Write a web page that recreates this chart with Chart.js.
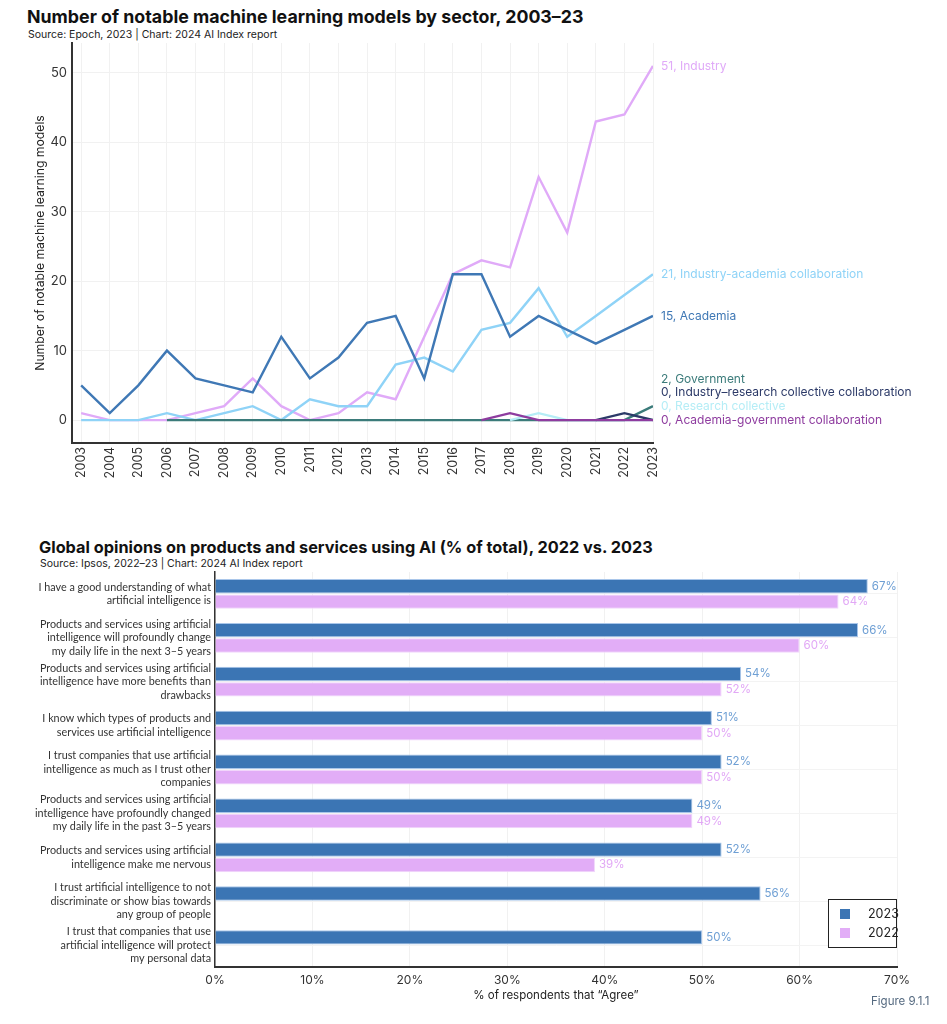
<!DOCTYPE html>
<html>
<head>
<meta charset="utf-8">
<script src="https://cdn.jsdelivr.net/npm/chart.js@4.4.1/dist/chart.umd.min.js"></script>
<style>
  html, body { margin:0; padding:0; background:#fff; }
  body { width:947px; height:1024px; position:relative; overflow:hidden; font-family:"Inter", "Liberation Sans", sans-serif; }
  .title { position:absolute; font-weight:700; color:#111; white-space:nowrap; }
  .sub { position:absolute; color:#222; white-space:nowrap; }
  canvas { position:absolute; left:0; }
  #legend { position:absolute; left:828px; top:899px; width:67px; height:47px; border:1.5px solid #222; background:#fff; font-size:12.5px; color:#222; }
  #legend .row { position:absolute; left:11px; width:56px; height:16px; line-height:16px; white-space:nowrap; }
  #legend .sw { display:inline-block; width:10px; height:10px; vertical-align:middle; margin-right:18px; margin-top:-2px; }
  #fig { position:absolute; left:871px; top:994px; font-size:11.5px; color:#556a80; }
</style>
</head>
<body>
<div class="title" style="left:27px; top:6px; font-size:17.8px;">Number of notable machine learning models by sector, 2003–23</div>
<div class="sub" style="left:28px; top:28px; font-size:10.5px;">Source: Epoch, 2023 | Chart: 2024 AI Index report</div>
<canvas id="c1" width="947" height="500" style="top:0;width:947px;height:500px;"></canvas>

<div class="title" style="left:39px; top:537px; font-size:16.3px;">Global opinions on products and services using AI (% of total), 2022 vs. 2023</div>
<div class="sub" style="left:40px; top:557px; font-size:10.5px;">Source: Ipsos, 2022–23 | Chart: 2024 AI Index report</div>
<canvas id="c2" width="947" height="524" style="top:500px;width:947px;height:524px;"></canvas>

<div id="legend">
  <div class="row" style="top:6px;"><span class="sw" style="background:#3b75b4"></span>2023</div>
  <div class="row" style="top:25px;"><span class="sw" style="background:#e2adf7"></span>2022</div>
</div>
<div id="fig">Figure 9.1.1</div>

<script>
// ---------- Chart 1 data ----------
const years = [2003,2004,2005,2006,2007,2008,2009,2010,2011,2012,2013,2014,2015,2016,2017,2018,2019,2020,2021,2022,2023];
const yTicks1 = [0,10,20,30,40,50];
const academiaGov      = [null,null,null,null,null,null,null,null,null,null,null,null,null,null,0,1,0,0,0,0,0];
const researchColl     = [null,null,null,null,null,null,null,null,null,null,null,null,null,null,null,0,1,0,0,0,0];
const industryResearch = [null,null,null,null,null,null,null,null,null,null,null,null,null,null,null,null,null,null,0,1,0];
const government       = [null,null,null,0,0,0,0,0,0,0,0,0,0,0,0,0,0,0,0,0,2];
const academia         = [5,1,5,10,6,5,4,12,6,9,14,15,6,21,21,12,15,13,11,13,15];
const industryAcademia = [0,0,0,1,0,1,2,0,3,2,2,8,9,7,13,14,19,12,15,18,21];
const industry         = [1,0,0,0,1,2,6,2,0,1,4,3,12,21,23,22,35,27,43,44,51];

const series1 = [
  {name:'Academia-government collaboration', values:academiaGov, color:'#8e3c9f'},
  {name:'Research collective', values:researchColl, color:'#b5edf6'},
  {name:'Industry–research collective collaboration', values:industryResearch, color:'#2c3a68'},
  {name:'Government', values:government, color:'#3b7b7a'},
  {name:'Academia', values:academia, color:'#3f78b5'},
  {name:'Industry-academia collaboration', values:industryAcademia, color:'#8fd3f7'},
  {name:'Industry', values:industry, color:'#e0aaf8'}
];

// ---------- Chart 2 data ----------
const statements = [
  ['I have a good understanding of what','artificial intelligence is'],
  ['Products and services using artificial','intelligence will profoundly change','my daily life in the next 3–5 years'],
  ['Products and services using artificial','intelligence have more benefits than','drawbacks'],
  ['I know which types of products and','services use artificial intelligence'],
  ['I trust companies that use artificial','intelligence as much as I trust other','companies'],
  ['Products and services using artificial','intelligence have profoundly changed','my daily life in the past 3–5 years'],
  ['Products and services using artificial','intelligence make me nervous'],
  ['I trust artificial intelligence to not','discriminate or show bias towards','any group of people'],
  ['I trust that companies that use','artificial intelligence will protect','my personal data']
];
const agree2023 = [67,66,54,51,52,49,52,56,50];
const agree2022 = [64,60,52,50,50,49,39,null,null];
const xTicks2 = [0,10,20,30,40,50,60,70];

const FONT = '"Inter", "Liberation Sans", sans-serif';
const FONT_NARROW = '"Lato", "Liberation Sans", sans-serif';

// ---------- Chart 1 ----------
const endLabels = {
  id:'endLabels',
  afterDatasetsDraw(chart){
    const ctx = chart.ctx, xs = chart.scales.x, ys = chart.scales.y;
    const items = chart.data.datasets.map(ds => {
      const last = ds.data[ds.data.length-1];
      return {text: last.y + ', ' + ds.label, color: ds.borderColor, x: xs.getPixelForValue(last.x) + 8, y: ys.getPixelForValue(last.y)};
    });
    items.sort((a,b)=>b.y-a.y);
    for (let i=1;i<items.length;i++){
      if (items[i].y > items[i-1].y - 13.6) items[i].y = items[i-1].y - 13.6;
    }
    ctx.save();
    ctx.font = '12px ' + FONT;
    ctx.textBaseline = 'middle';
    ctx.textAlign = 'left';
    items.forEach(it => { ctx.fillStyle = it.color; ctx.fillText(it.text, it.x, it.y); });
    ctx.restore();
  }
};

new Chart(document.getElementById('c1'), {
  type:'line',
  data:{
    datasets: series1.map(s => ({
      label:s.name,
      data:s.values.map((v,i)=>({x:years[i], y:v})),
      borderColor:s.color,
      backgroundColor:s.color,
      borderWidth:2.4,
      pointRadius:0,
      tension:0,
      spanGaps:false
    }))
  },
  options:{
    responsive:false,
    animation:false,
    devicePixelRatio:1,
    layout:{padding:{top:43, right:294, left:33, bottom:0}},
    plugins:{legend:{display:false}, tooltip:{enabled:false}},
    scales:{
      x:{
        type:'linear', min:2002.68, max:2023,
        afterBuildTicks: s => { s.ticks = years.map(v=>({value:v})); },
        afterFit: s => { s.height = 57; },
        ticks:{autoSkip:false, minRotation:90, maxRotation:90, padding:4, color:'#333', font:{family:FONT, size:12.5}, callback:v=>String(v)},
        grid:{color:'#f1f1f1', lineWidth:1, drawTicks:false},
        border:{display:true, color:'#333', width:2}
      },
      y:{
        type:'linear', min:-3.3, max:54.3,
        afterBuildTicks: s => { s.ticks = yTicks1.map(v=>({value:v})); },
        afterFit: s => { s.width = 39; },
        ticks:{padding:5, color:'#333', font:{family:FONT, size:13}},
        grid:{color:'#f1f1f1', lineWidth:1, drawTicks:false},
        border:{display:true, color:'#333', width:2},
        title:{display:true, text:'Number of notable machine learning models', color:'#222', font:{family:FONT, size:12.2}, padding:{top:0,bottom:0}}
      }
    }
  },
  plugins:[endLabels]
});

// ---------- Chart 2 ----------
const barLabels = {
  id:'barLabels',
  afterDatasetsDraw(chart){
    const ctx = chart.ctx;
    ctx.save();
    ctx.font = '11.5px ' + FONT;
    ctx.textBaseline = 'middle';
    ctx.textAlign = 'left';
    chart.data.datasets.forEach((ds, di) => {
      const meta = chart.getDatasetMeta(di);
      ctx.fillStyle = ds.labelColor;
      meta.data.forEach((el, i) => {
        const v = ds.data[i];
        if (v === null || v === undefined) return;
        ctx.fillText(v + '%', el.x + 4, el.y);
      });
    });
    ctx.restore();
  }
};

new Chart(document.getElementById('c2'), {
  type:'bar',
  data:{
    labels: statements,
    datasets:[
      {label:'2023', data:agree2023, backgroundColor:'#3b75b4', borderColor:'#a9c6ea', borderWidth:1, labelColor:'#6e9fd4', barPercentage:0.94, categoryPercentage:0.7},
      {label:'2022', data:agree2022, backgroundColor:'#e2adf7', borderColor:'#f1d6fb', borderWidth:1, labelColor:'#e2a8f6', barPercentage:0.94, categoryPercentage:0.7}
    ]
  },
  options:{
    indexAxis:'y',
    responsive:false,
    animation:false,
    devicePixelRatio:1,
    layout:{padding:{top:72, right:50, left:0, bottom:22}},
    plugins:{legend:{display:false}, tooltip:{enabled:false}},
    scales:{
      x:{
        type:'linear', min:0, max:70,
        afterBuildTicks: s => { s.ticks = xTicks2.map(v=>({value:v})); },
        afterFit: s => { s.height = 524 - 467 - 22; },
        ticks:{padding:6, color:'#333', font:{family:FONT, size:12}, callback:v=>v+'%'},
        grid:{color:'#f1f1f1', lineWidth:1, drawTicks:false},
        border:{display:true, color:'#333', width:2},
        title:{display:true, text:'% of respondents that “Agree”', color:'#222', font:{family:FONT, size:11.5}, padding:{top:0,bottom:0}}
      },
      y:{
        afterFit: s => { s.width = 215; },
        ticks:{padding:4, color:'#333', font:{family:FONT_NARROW, size:10.8, lineHeight:1.25}},
        grid:{color:'#f3f3f3', lineWidth:1, drawTicks:false, offset:false},
        border:{display:true, color:'#333', width:1.5}
      }
    }
  },
  plugins:[barLabels]
});
</script>
</body>
</html>
